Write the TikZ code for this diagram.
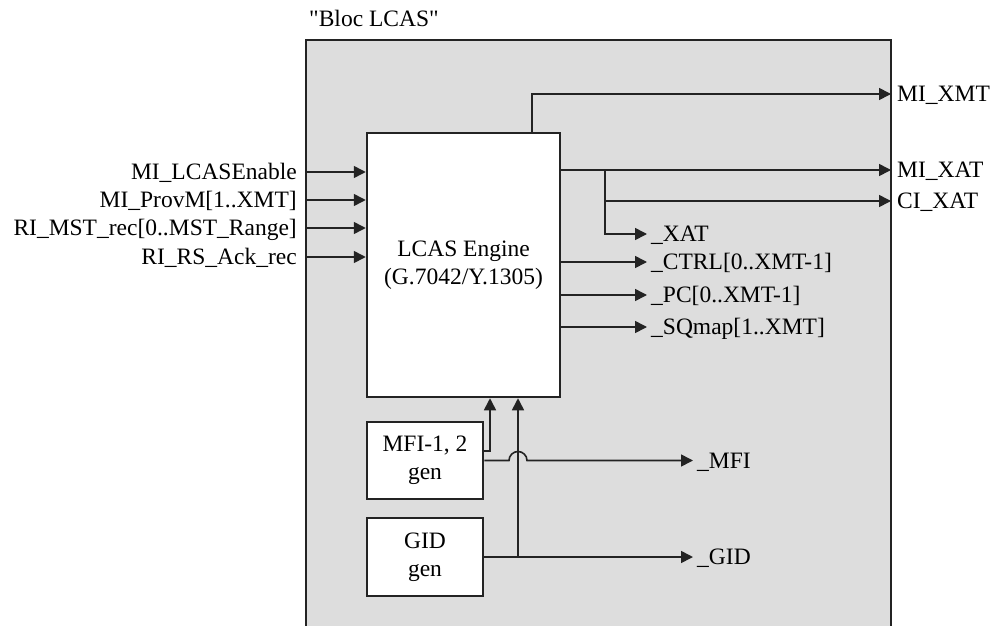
\documentclass[tikz,border=0pt]{standalone}
\usepackage{fontspec}
\setmainfont{Liberation Serif}
\usetikzlibrary{arrows.meta, positioning, calc}
\usepackage{xcolor}
\definecolor{fundocinza}{RGB}{221, 221, 221}
\definecolor{linhaescura}{RGB}{35, 35, 35}

\begin{document}
\begin{tikzpicture}[
                x=1pt, y=-1pt,
                font=\fontsize{23.5}{28}\selectfont,
                bloco/.style={draw=linhaescura, line width=2.5pt, fill=white, align=center, inner sep=0pt},
                rotulo/.style={inner sep=0pt, text height=15.5pt, text depth=0pt},
                sinal/.style={-{Triangle[length=12pt, width=12pt]}, line width=1.6pt, color=linhaescura}
            ]
                \useasboundingbox (0,0) rectangle (998,626);
                % bloco externo (aberto embaixo)
                \fill[fundocinza] (306,40) rectangle (891,640);
                \draw[line width=2.5pt, linhaescura] (306,640) -- (306,40) -- (891,40) -- (891,640);
                \node[anchor=base west, inner sep=0pt] (titulo) at (309,27) {\textquotedbl Bloc LCAS\textquotedbl};

                \node[bloco, minimum width=193pt, minimum height=264pt] (motor) at (463.5,265) {LCAS Engine\\(G.7042/Y.1305)};
                \node[bloco, minimum width=116pt, minimum height=77pt] (mfi) at (425,460.5) {MFI-1, 2\\gen};
                \node[bloco, minimum width=116pt, minimum height=78pt] (gid) at (425,557) {GID\\gen};

                % entradas
                \node[rotulo, anchor=east] (lcasen) at (297,172) {MI\_LCASEnable};
                \node[rotulo, anchor=east] (provm) at (297,200) {MI\_ProvM[1..XMT]};
                \node[rotulo, anchor=east] (mstrec) at (297,228) {RI\_MST\_rec[0..MST\_Range]};
                \node[rotulo, anchor=east] (rsack) at (297,257) {RI\_RS\_Ack\_rec};
                \foreach \e in {lcasen, provm, mstrec, rsack}
                    \draw[sinal] ([xshift=9pt]\e.east) -- (\e.east -| motor.west);

                % saidas para fora do bloco
                \node[rotulo, anchor=west] (mixmt) at (897,94) {MI\_XMT};
                \node[rotulo, anchor=west] (mixat) at (897,170) {MI\_XAT};
                \node[rotulo, anchor=west] (cixat) at (897,201) {CI\_XAT};
                \draw[sinal] ([xshift=68.5pt]motor.north) |- ([xshift=-6pt]mixmt.west);
                \draw[sinal] (mixat.west -| motor.east) -- ([xshift=-6pt]mixat.west);
                \coordinate (ramo) at (605,170);
                \draw[sinal] (ramo) |- ([xshift=-6pt]cixat.west);

                % saidas internas
                \node[rotulo, anchor=west] (xat) at (651,234) {\_XAT};
                \node[rotulo, anchor=west] (ctrl) at (651,262) {\_CTRL[0..XMT-1]};
                \node[rotulo, anchor=west] (pc) at (651,295) {\_PC[0..XMT-1]};
                \node[rotulo, anchor=west] (sqmap) at (651,327) {\_SQmap[1..XMT]};
                \draw[sinal] (ramo) |- ([xshift=-4pt]xat.west);
                \foreach \s in {ctrl, pc, sqmap}
                    \draw[sinal] (\s.west -| motor.east) -- ([xshift=-4pt]\s.west);

                % geradores
                \node[rotulo, anchor=west] (mfiout) at (697,460.5) {\_MFI};
                \node[rotulo, anchor=west] (gidout) at (697,557) {\_GID};
                \coordinate (destino) at ([xshift=54.5pt]motor.south);
                \draw[sinal] ([yshift=9.5pt]mfi.east) -| ([xshift=26.5pt]motor.south);
                \draw[sinal] (gid.east) -- ([xshift=-4pt]gidout.west);
                \draw[sinal] (destino |- gid.east) -- (destino);
                \draw[sinal] (mfi.east) -- ([xshift=-9pt]destino |- mfi.east) arc[start angle=180, end angle=360, radius=9] -- ([xshift=-4pt]mfiout.west);
            \end{tikzpicture}
\end{document}
